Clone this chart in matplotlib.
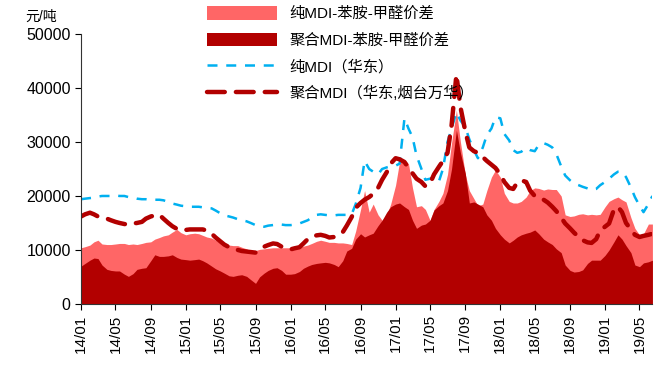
import numpy as np
import pandas as pd
import matplotlib
matplotlib.use("Agg")
import matplotlib.pyplot as plt
import matplotlib.dates as mdates
from matplotlib.patches import Patch
from matplotlib.lines import Line2D

plt.rcParams['font.family'] = ['Liberation Sans', 'Noto Sans CJK SC', 'DejaVu Sans']

# semi-monthly observations, 2014-01 .. 2019-06
dates = pd.date_range('2014-01-01', periods=132, freq='SMS')

# 纯MDI（华东）
pure_mdi = [
    19400, 19500, 19600, 19700, 19900, 20000, 20000, 20000, 20100, 20000, 20000, 19800,
    19700, 19500, 19400, 19400, 19300, 19300, 19300, 19200, 18900, 18600, 18400, 18200,
    18100, 18000, 18000, 18000, 17900, 17800, 17700, 17300, 16800, 16400, 16200, 16000,
    15700, 15500, 15300, 15000, 14600, 14400, 14300, 14500, 14600, 14700, 14700, 14600,
    14600, 14700, 14900, 15200, 15500, 16000, 16500, 16600, 16500, 16400, 16400, 16500,
    16500, 16500, 16600, 18500, 21500, 26500, 25000, 24500, 24000, 25000, 25300, 25500,
    25600, 26000, 34400, 32500, 30900, 27500, 25000, 23000, 23200, 23500, 22700, 25000,
    30000, 32500, 35500, 34000, 32800, 30500, 28500, 27000, 29000, 31300, 32500, 34600,
    34400, 31500, 30300, 28500, 28000, 28200, 28900, 28500, 28300, 29500, 29800, 29500,
    29000, 27800, 25500, 23800, 22900, 22300, 22000, 21700, 21400, 21100, 21300, 22000,
    22600, 23200, 24000, 24500, 24500, 23500, 21600, 19800, 18200, 17000, 18500, 20000,
]

# 聚合MDI（华东,烟台万华）
poly_mdi = [
    16200, 16600, 16900, 16600, 16200, 16000, 15800, 15500, 15200, 15000, 14800, 14700,
    14900, 15000, 15200, 15800, 16200, 16400, 16500, 15800, 15000, 14400, 13900, 13600,
    13700, 13800, 13800, 13800, 13800, 13600, 13000, 12300, 11600, 11000, 10500, 10200,
    10000, 9800, 9700, 9600, 9500, 10000, 10600, 10900, 11200, 11100, 10600, 10300,
    10100, 10300, 10500, 11200, 12000, 12500, 12700, 12800, 12600, 12300, 12400, 12800,
    13300, 14500, 16100, 17800, 18700, 19300, 19800, 20400, 21500, 23000, 24400, 26000,
    27000, 26800, 26300, 25200, 24200, 23200, 22600, 21800, 22300, 24000, 25400, 26500,
    28000, 33000, 42500, 36500, 32000, 29000, 28300, 28000, 27200, 26500, 25800, 25200,
    24000, 22600, 21500, 21300, 22500, 22900, 22600, 21000, 20000, 19600, 19300, 18800,
    18000, 17200, 16000, 14900, 14000, 13200, 12400, 11800, 11400, 11300, 12000, 13600,
    14300, 14900, 17500, 18000, 17000, 15000, 13800, 12800, 12400, 12600, 12800, 13000,
]

# 纯MDI-苯胺-甲醛价差
pure_spread = [
    10400, 10600, 10900, 11500, 11800, 11100, 11000, 11000, 11100, 11200, 11200, 11000,
    11100, 11000, 11200, 11400, 11500, 12000, 12300, 12600, 12800, 13300, 13800, 13200,
    12800, 13000, 13100, 13000, 12700, 12400, 12200, 11800, 11300, 11000, 10900, 10800,
    10800, 10500, 10200, 9800, 9900, 10100, 10200, 10300, 10400, 10400, 10400, 10400,
    10400, 10400, 10500, 10700, 10900, 11200, 11600, 11800, 11600, 11400, 11400, 11300,
    11300, 11200, 11000, 13500, 17500, 21000, 17000, 18500, 16500, 15500, 16500, 18500,
    22000, 26400, 26600, 26000, 21500, 18000, 18200, 17500, 15500, 17500, 19000, 20500,
    24000, 29800, 35900, 30000, 24000, 21000, 19500, 18200, 18500, 21000, 23500, 24800,
    23500, 20500, 19000, 18700, 18700, 19000, 19800, 21000, 21500, 21400, 21100, 21300,
    21200, 21200, 20000, 16500, 16200, 16300, 16600, 16700, 16500, 16600, 16500, 16600,
    18000, 19000, 19500, 19800, 19300, 18900, 16000, 14000, 12800, 13000, 14800, 14800,
]

# 聚合MDI-苯胺-甲醛价差
poly_spread = [
    7000, 7500, 8100, 8500, 8400, 7200, 6400, 6200, 6100, 6100, 5500, 5100,
    5600, 6400, 6600, 6700, 8000, 9100, 8800, 8800, 8900, 9100, 8600, 8300,
    8200, 8100, 8200, 8300, 8000, 7600, 7000, 6500, 6100, 5700, 5200, 5100,
    5300, 5400, 5100, 4500, 3800, 5000, 5700, 6200, 6600, 6700, 6200, 5500,
    5500, 5600, 6000, 6600, 7000, 7300, 7500, 7600, 7700, 7600, 7300, 6900,
    8000, 9800, 10300, 12000, 13000, 12400, 12800, 13100, 14500, 15500, 17000, 18000,
    18500, 18700, 18000, 17500, 15500, 14000, 14600, 14800, 15500, 17400, 18200, 18700,
    21000, 25000, 32200, 28000, 24200, 18700, 18900, 18500, 18000, 16500, 15500, 14000,
    12800, 12000, 11300, 11800, 12400, 12800, 13100, 13300, 13700, 13000, 12000, 11500,
    11000, 10200, 9500, 7200, 6200, 5900, 6000, 6300, 7500, 8100, 8100, 8100,
    9000, 10000, 11500, 12800, 12000, 10800, 9500, 7200, 6900, 7600, 7800, 8100,
]

light_red = '#FF6666'
dark_red = '#B20000'
blue = '#00B0F0'

fig = plt.figure(figsize=(6.59, 3.67), dpi=100)
ax = fig.add_axes([0.123, 0.172, 0.867, 0.735])

ax.fill_between(dates, 0, pure_spread, color=light_red, lw=0)
ax.fill_between(dates, 0, poly_spread, color=dark_red, lw=0)
ax.plot(dates, pure_mdi, color=blue, lw=1.8, dashes=(4, 3.5))
ax.plot(dates, poly_mdi, color=dark_red, lw=3.2, dashes=(4, 2.5),
        dash_capstyle='round')

ax.set_xlim(dates[0], dates[-1])
ax.set_ylim(0, 50000)
ax.set_yticks(np.arange(0, 50001, 10000))
ax.xaxis.set_major_locator(mdates.MonthLocator(bymonth=[1, 5, 9]))
ax.xaxis.set_major_formatter(mdates.DateFormatter('%y/%m'))
ax.tick_params(axis='x', rotation=90, labelsize=11, length=4, direction='out')
ax.tick_params(axis='y', labelsize=11.5, length=4, direction='out')
for side in ('top', 'right'):
    ax.spines[side].set_visible(False)
for side in ('left', 'bottom'):
    ax.spines[side].set_color('#333333')

fig.text(0.038, 0.955, '元/吨', fontsize=10, ha='left', va='center')

handles = [
    Patch(facecolor=light_red, edgecolor='none'),
    Patch(facecolor=dark_red, edgecolor='none'),
    Line2D([], [], color=blue, lw=1.8, dashes=(4, 3.5)),
    Line2D([], [], color=dark_red, lw=3.2, dashes=(4, 2.5), dash_capstyle='round'),
]
labels = ['纯MDI-苯胺-甲醛价差', '聚合MDI-苯胺-甲醛价差', '纯MDI（华东）', '聚合MDI（华东,烟台万华）']
fig.legend(handles, labels, loc='upper left', bbox_to_anchor=(0.305, 1.0),
           frameon=False, fontsize=11, handlelength=4.6, handleheight=1.0,
           labelspacing=0.75, handletextpad=0.8, borderaxespad=0.0)

fig.savefig('out.png', dpi=100)
